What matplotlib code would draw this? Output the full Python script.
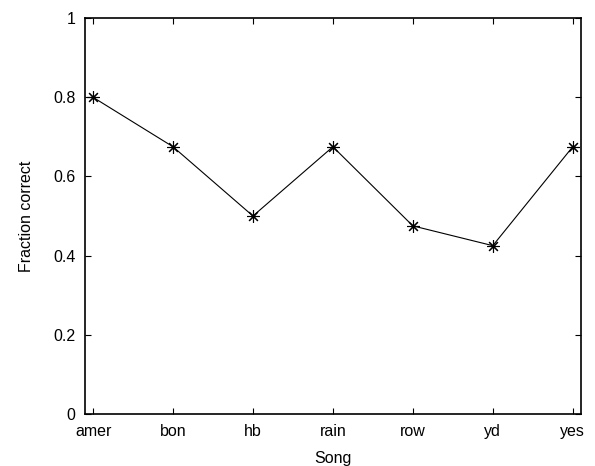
import matplotlib
matplotlib.use('Agg')
import matplotlib.pyplot as plt

# 数据
songs = ['amer', 'bon', 'hb', 'rain', 'row', 'yd', 'yes']
fraction_correct = [0.8, 0.675, 0.5, 0.675, 0.475, 0.425, 0.675]
y_ticks = [0, 0.2, 0.4, 0.6, 0.8, 1]

plt.rcParams['font.family'] = ['Liberation Sans', 'DejaVu Sans']

fig = plt.figure(figsize=(5.95, 4.66), dpi=100)
ax = fig.add_axes([0.143, 0.112, 0.833, 0.849])

x = list(range(1, len(songs) + 1))
# MATLAB 风格星号：8 条射线
ax.plot(x, fraction_correct, color='black', linewidth=0.8,
        marker=(8, 2, 0), markersize=9, markeredgewidth=0.8)

ax.set_xlim(0.9, 7.1)
ax.set_ylim(0, 1)
ax.set_xticks(x)
ax.set_xticklabels(songs)
ax.set_yticks(y_ticks)
ax.set_yticklabels(['0', '0.2', '0.4', '0.6', '0.8', '1'])
ax.tick_params(direction='in', length=4, width=0.8, labelsize=11.5,
               top=True, right=True, pad=7)
for s in ax.spines.values():
    s.set_linewidth(1.2)

ax.set_xlabel('Song', fontsize=11.5, labelpad=9)
ax.set_ylabel('Fraction correct', fontsize=11.5, labelpad=14)

fig.savefig('out.png', dpi=100)
